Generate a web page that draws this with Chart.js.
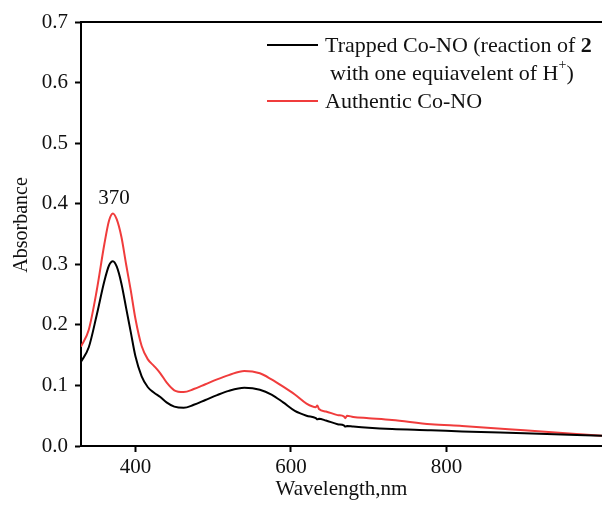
<!DOCTYPE html>
<html>
<head>
<meta charset="utf-8">
<script src="https://cdn.jsdelivr.net/npm/chart.js@4/dist/chart.umd.min.js"></script>
<style>
  html, body { margin: 0; padding: 0; background: #fff; }
  #wrap { width: 602px; height: 506px; }
</style>
</head>
<body>
<div id="wrap"><canvas id="uvChart" width="602" height="506"></canvas></div>
<script>
// wavelength (nm)
const wavelengths = [330, 340, 350, 360, 366, 371, 376, 382, 388, 394, 400, 408, 416, 424, 432, 440, 450, 462, 475, 490, 505, 520, 540, 560, 575, 590, 605, 620, 632, 634, 636, 645, 660, 668, 670, 672, 680, 700, 730, 780, 820, 900, 1000];
// Trapped Co-NO
const trappedAbs = [0.139, 0.163, 0.215, 0.272, 0.298, 0.305, 0.296, 0.268, 0.228, 0.188, 0.148, 0.115, 0.097, 0.088, 0.081, 0.072, 0.065, 0.063, 0.068, 0.076, 0.084, 0.091, 0.096, 0.093, 0.085, 0.072, 0.058, 0.050, 0.046, 0.044, 0.045, 0.042, 0.036, 0.034, 0.032, 0.033, 0.032, 0.030, 0.028, 0.026, 0.024, 0.021, 0.017];
// Authentic Co-NO
const authenticAbs = [0.164, 0.192, 0.255, 0.333, 0.372, 0.384, 0.374, 0.345, 0.300, 0.257, 0.210, 0.165, 0.143, 0.132, 0.120, 0.105, 0.092, 0.089, 0.094, 0.102, 0.110, 0.117, 0.124, 0.120, 0.110, 0.098, 0.085, 0.070, 0.064, 0.067, 0.061, 0.057, 0.051, 0.049, 0.046, 0.050, 0.048, 0.046, 0.043, 0.036, 0.033, 0.026, 0.017];
const xTicks = [400, 600, 800];
const yTicks = [0, 0.1, 0.2, 0.3, 0.4, 0.5, 0.6, 0.7];
const peakLabel = { x: 370, y: 0.384, text: '370' };

const serif = '"Liberation Serif", "Times New Roman", serif';

function toPoints(ys) {
  return wavelengths.map((w, i) => ({ x: w, y: ys[i] }));
}

// top frame line, legend, y title and peak label
const extrasPlugin = {
  id: 'extras',
  afterDraw(chart) {
    const ctx = chart.ctx;
    const area = chart.chartArea;
    const xs = chart.scales.x, ys = chart.scales.y;
    ctx.save();
    ctx.strokeStyle = '#000';
    ctx.lineWidth = 2;
    ctx.beginPath();
    ctx.moveTo(area.left - 1, area.top);
    ctx.lineTo(area.right, area.top);
    ctx.stroke();

    // legend
    ctx.textBaseline = 'middle';
    ctx.fillStyle = '#111';
    ctx.font = '22px ' + serif;
    ctx.lineWidth = 2;
    ctx.strokeStyle = '#000';
    ctx.beginPath(); ctx.moveTo(267, 45); ctx.lineTo(318, 45); ctx.stroke();
    let t = 'Trapped Co-NO (reaction of ';
    ctx.fillText(t, 325, 46);
    let w = ctx.measureText(t).width;
    ctx.font = 'bold 22px ' + serif;
    ctx.fillText('2', 325 + w, 46);
    ctx.font = '22px ' + serif;
    t = 'with one equiavelent of H';
    ctx.fillText(t, 330, 74);
    w = ctx.measureText(t).width;
    ctx.font = '14px ' + serif;
    ctx.fillText('+', 330 + w, 65);
    const w2 = ctx.measureText('+').width;
    ctx.font = '22px ' + serif;
    ctx.fillText(')', 330 + w + w2, 74);
    ctx.strokeStyle = '#f03c3c';
    ctx.beginPath(); ctx.moveTo(267, 101); ctx.lineTo(318, 101); ctx.stroke();
    ctx.fillText('Authentic Co-NO', 325, 102);

    // peak label
    ctx.font = '21px ' + serif;
    ctx.textAlign = 'center';
    ctx.textBaseline = 'bottom';
    ctx.fillText(peakLabel.text, xs.getPixelForValue(peakLabel.x) + 2, ys.getPixelForValue(peakLabel.y) - 4);

    // y axis title
    ctx.translate(22, 225);
    ctx.rotate(-Math.PI / 2);
    ctx.textBaseline = 'middle';
    ctx.font = '20px ' + serif;
    ctx.fillText('Absorbance', 0, 0);
    ctx.restore();
  }
};

const ctx = document.getElementById('uvChart').getContext('2d');
const chart = new Chart(ctx, {
  type: 'line',
  data: {
    datasets: [
      {
        label: 'Trapped Co-NO',
        data: toPoints(trappedAbs),
        borderColor: '#000',
        borderWidth: 2,
        pointRadius: 0,
        tension: 0.4,
        cubicInterpolationMode: 'monotone'
      },
      {
        label: 'Authentic Co-NO',
        data: toPoints(authenticAbs),
        borderColor: '#f03c3c',
        borderWidth: 2,
        pointRadius: 0,
        tension: 0.4,
        cubicInterpolationMode: 'monotone'
      }
    ]
  },
  options: {
    responsive: false,
    animation: false,
    layout: { padding: { top: 22, right: 0, left: 0, bottom: 0 } },
    plugins: { legend: { display: false }, tooltip: { enabled: false } },
    scales: {
      x: {
        type: 'linear',
        min: 330,
        max: 1000,
        afterBuildTicks: (s) => { s.ticks = xTicks.map(v => ({ value: v })); },
        afterFit: (s) => { s.height = 60; },
        grid: { drawOnChartArea: false, tickLength: 6, color: '#000', tickWidth: 2 },
        border: { display: true, color: '#000', width: 2 },
        ticks: { color: '#111', font: { family: serif, size: 21 }, padding: 3, maxRotation: 0 },
        title: { display: true, text: 'Wavelength,nm', color: '#111', font: { family: serif, size: 21 }, padding: { top: 0 } }
      },
      y: {
        min: 0,
        max: 0.7,
        afterBuildTicks: (s) => { s.ticks = yTicks.map(v => ({ value: v })); },
        afterFit: (s) => { s.width = 81; },
        grid: { drawOnChartArea: false, tickLength: 6, color: '#000', tickWidth: 2 },
        border: { display: true, color: '#000', width: 2 },
        ticks: { color: '#111', font: { family: serif, size: 21 }, padding: 7, callback: (v) => v.toFixed(1) },
        title: { display: false }
      }
    }
  },
  plugins: [extrasPlugin]
});
</script>
</body>
</html>
